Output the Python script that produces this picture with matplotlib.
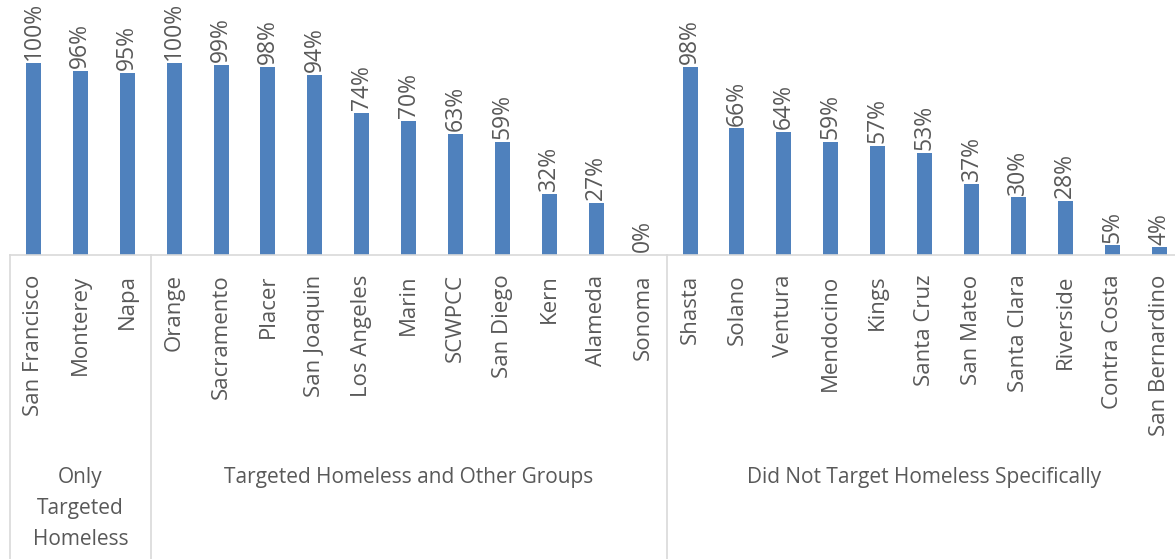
import matplotlib.pyplot as plt
import matplotlib.transforms as mtransforms

counties = [
    'San Francisco', 'Monterey', 'Napa',
    'Orange', 'Sacramento', 'Placer', 'San Joaquin', 'Los Angeles', 'Marin',
    'SCWPCC', 'San Diego', 'Kern', 'Alameda', 'Sonoma',
    'Shasta', 'Solano', 'Ventura', 'Mendocino', 'Kings', 'Santa Cruz',
    'San Mateo', 'Santa Clara', 'Riverside', 'Contra Costa', 'San Bernardino',
]
percent = [
    100, 96, 95,
    100, 99, 98, 94, 74, 70, 63, 59, 32, 27, 0,
    98, 66, 64, 59, 57, 53, 37, 30, 28, 5, 4,
]
group_names = [
    'Only\nTargeted\nHomeless',
    'Targeted Homeless and Other Groups',
    'Did Not Target Homeless Specifically',
]
group_sizes = [3, 11, 11]

TEXT = '#595959'
GRID = '#d9d9d9'
plt.rcParams['font.family'] = ['Open Sans', 'DejaVu Sans']

W, H = 1175, 559
fig = plt.figure(figsize=(W / 100, H / 100), dpi=100)
base_px = 255
left_px = 10
ax = fig.add_axes([left_px / W, (H - base_px) / H, (W - left_px) / W, base_px / H])

step_px = 46.9
x = list(range(len(counties)))
ax.bar(x, percent, width=15 / step_px, color='#4f81bd', zorder=2)
ax.set_xlim(-0.5, (W - left_px) / step_px - 0.5)
ax.set_ylim(0, 100 * base_px / (base_px - 63))

for s in ['top', 'right', 'left']:
    ax.spines[s].set_visible(False)
ax.spines['bottom'].set_color(GRID)
ax.spines['bottom'].set_linewidth(1.2)
ax.set_xticks([])
ax.set_yticks([])

# value labels above each bar
for xi, v in zip(x, percent):
    ax.annotate(f'{v}%', (xi, v), xytext=(0, 2), textcoords='offset points',
                rotation=90, ha='center', va='bottom', fontsize=16.5, color=TEXT)

# category labels under the axis
trans = mtransforms.blended_transform_factory(ax.transData, ax.transAxes)
for xi, name in zip(x, counties):
    ax.annotate(name, (xi, 0), xycoords=trans, xytext=(0, -14),
                textcoords='offset points', rotation=90, ha='center', va='top',
                fontsize=16, color=TEXT, annotation_clip=False)

# group separators and group names
bottom = -(H - base_px) / base_px
start = 0
edges = [-0.5]
for size in group_sizes:
    start += size
    edges.append(start - 0.5)
for e in edges:
    ax.plot([e, e], [0, bottom], transform=trans, color=GRID, lw=1.2, clip_on=False)

for i, (name, size) in enumerate(zip(group_names, group_sizes)):
    lo = edges[i]
    hi = lo + size
    ax.annotate(name, ((lo + hi) / 2, 0), xycoords=trans, xytext=(0, -153),
                textcoords='offset points', ha='center', va='top', fontsize=15,
                color=TEXT, linespacing=1.6, annotation_clip=False)

fig.savefig('out.png', dpi=100)
